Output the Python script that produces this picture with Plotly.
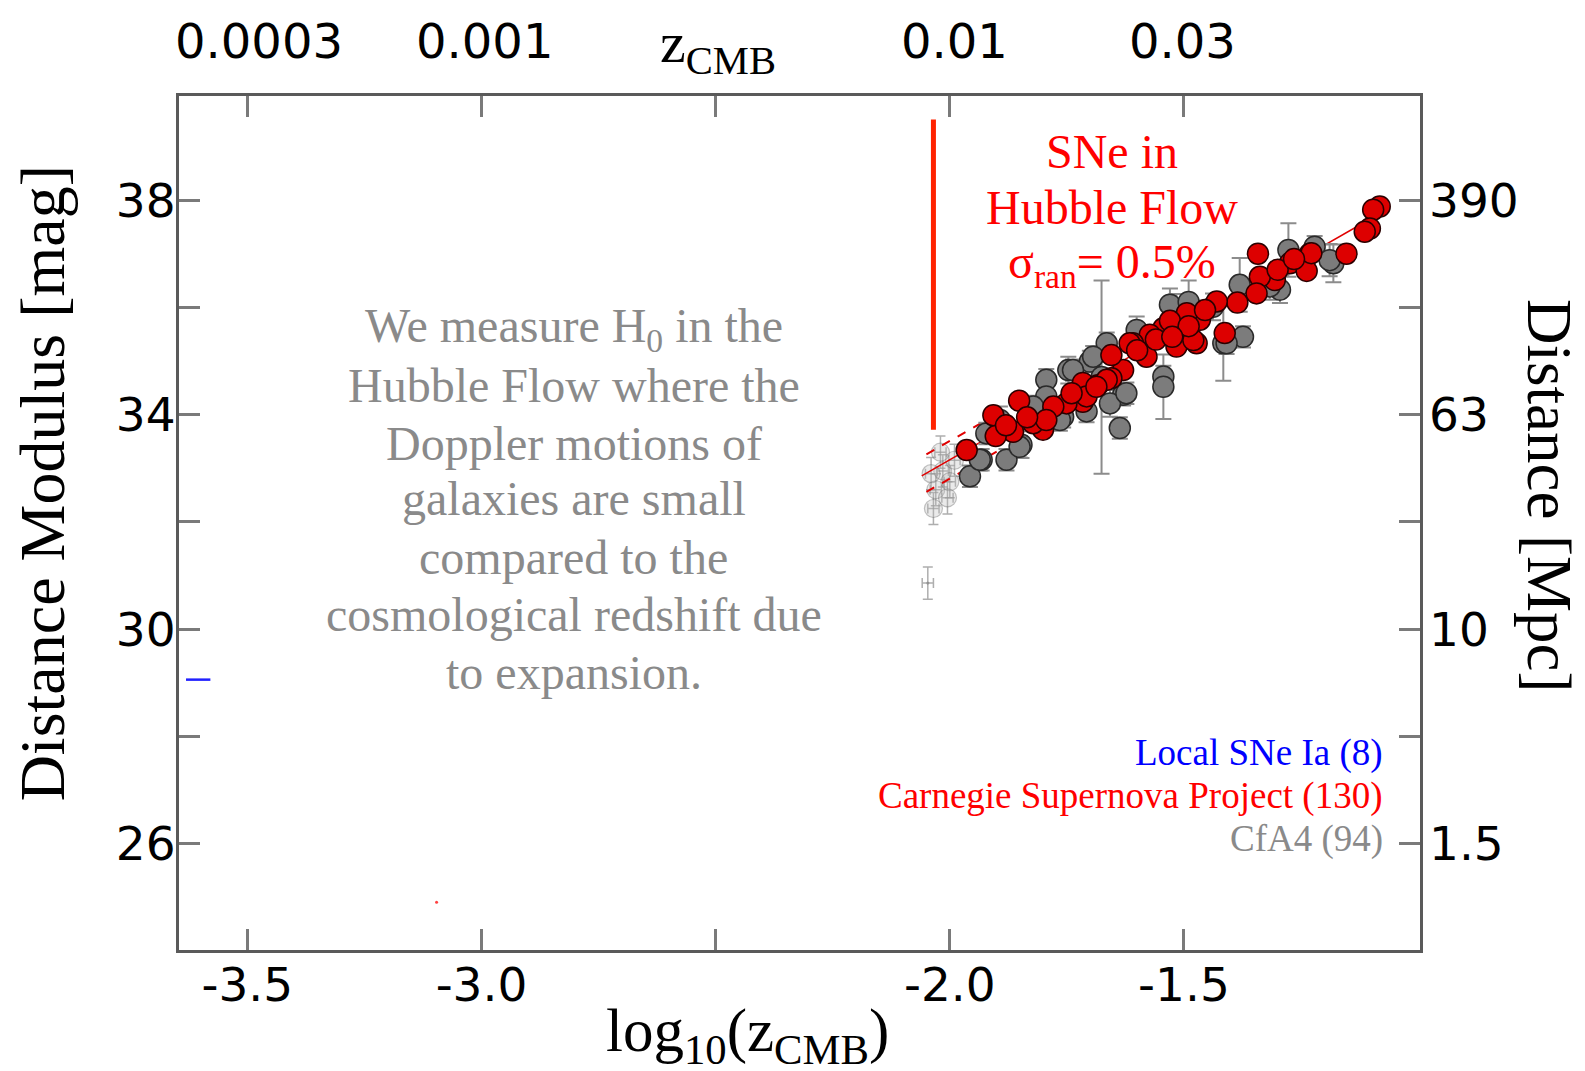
import plotly.graph_objects as go
import numpy as np

# ---------------- data ----------------
# Carnegie Supernova Project (red)
csp_x = [-1.082, -1.096, -1.103, -1.114, -1.153, -1.231, -1.342, -1.274, -1.238, -1.306,
         -1.338, -1.345, -1.386, -1.430, -1.413, -1.466, -1.494, -1.473, -1.509, -1.544,
         -1.516, -1.573, -1.609, -1.580, -1.630, -1.655, -1.655, -1.684, -1.716, -1.716,
         -1.751, -1.779, -1.801, -1.822, -1.852, -1.865, -1.907, -1.902, -1.964, -1.794,
         -1.708, -1.616, -1.502, -1.480, -1.228, -1.665, -1.687, -1.530, -1.490, -1.455,
         -1.560, -1.525, -1.600, -1.740, -1.835, -1.880, -1.300, -1.265]
csp_y = [37.88, 37.82, 37.47, 37.41, 37.00, 37.00, 37.00, 36.82, 36.68, 36.51,
         36.57, 36.26, 36.09, 36.11, 35.52, 35.77, 35.89, 35.33, 35.55, 35.61,
         35.27, 35.49, 35.33, 35.08, 34.83, 35.11, 34.68, 34.55, 34.59, 34.24,
         34.21, 34.15, 33.72, 33.84, 34.26, 33.68, 33.99, 33.60, 33.34, 33.90,
         34.34, 35.33, 35.58, 35.39, 37.01, 34.65, 34.52, 35.75, 35.65, 35.95,
         35.40, 35.45, 35.20, 34.40, 33.95, 33.80, 36.70, 36.90]

# CfA4 (grey)
cfa_x = [-1.181, -1.221, -1.277, -1.295, -1.381, -1.374, -1.416, -1.438, -1.516, -1.523,
         -1.544, -1.544, -1.601, -1.637, -1.630, -1.658, -1.665, -1.701, -1.708, -1.747,
         -1.758, -1.794, -1.794, -1.822, -1.847, -1.879, -1.922, -1.932, -1.957, -1.893,
         -1.623, -1.676, -1.737, -1.694, -1.189, -1.530, -1.490, -1.317, -1.409, -1.765,
         -1.851, -1.936]
cfa_y = [36.82, 37.13, 37.07, 36.33, 36.42, 35.45, 35.33, 36.01, 35.95, 35.89,
         34.71, 34.52, 35.58, 33.75, 34.37, 34.21, 35.33, 34.99, 34.06, 34.83,
         33.96, 34.65, 34.34, 34.15, 33.44, 33.16, 33.65, 33.16, 32.85, 33.90,
         34.40, 34.70, 34.83, 35.08, 36.88, 36.05, 36.10, 36.39, 35.33, 33.90,
         33.40, 33.16]
cfa_err = [0.35, 0.20, 0.50, 0.25, 0.50, 0.20, 0.70, 0.25, 0.30, 0.20,
           0.20, 0.60, 0.25, 0.20, 0.20, 0.25, 0.20, 0.20, 0.20, 0.25,
           0.20, 0.20, 0.20, 0.20, 0.25, 0.20, 0.20, 0.20, 0.20, 0.25,
           0.20, 1.80, 0.20, 0.20, 0.30, 0.30, 0.40, 0.25, 0.20, 0.20,
           0.20, 0.20]

# faint CfA4 points at the low-z edge
cfa_faint_x = [-2.030, -2.015, -2.000, -1.990, -2.035, -2.020, -2.040, -2.005, -2.047]
cfa_faint_y = [32.60, 32.95, 32.75, 33.15, 32.25, 33.30, 32.90, 32.45, 30.86]
cfa_faint_size = [18, 18, 18, 18, 18, 18, 18, 18, 2]

# Local SNe Ia (blue) - only a fragment visible
local_x = [-3.605]
local_y = [29.06]
local_xerr = [0.026]

# stray red point
stray_x = [-3.096]
stray_y = [24.91]

# Hubble-law fit
H0 = 70.0
c_kms = 299792.458
fit_x = [-2.06, -1.08]
fit_dash_x = [-2.05, -1.90]
fit_dash_off = 0.35

# Hubble-flow cut line
cut_x = -2.035
cut_y = [33.72, 39.5]

# ticks
bottom_tickvals = [-3.5, -3.0, -2.5, -2.0, -1.5]
bottom_ticktext = ["-3.5", "-3.0", "", "-2.0", "-1.5"]
left_tickvals = [26, 28, 30, 32, 34, 36, 38]
left_ticktext = ["26", "", "30", "", "34", "", "38"]
right_labels_mu = [38, 34, 30, 26]
right_labels_txt = ["390", "63", "10", "1.5"]
top_label_x = [-3.4755, -2.993, -1.989, -1.5025]
top_label_txt = ["0.0003", "0.001", "0.01", "0.03"]

XR = [-3.646, -0.996]
YR = [24.02, 39.94]


def mu_model(lz, H):
    return 5 * np.log10(c_kms * 10 ** np.asarray(lz) / H) + 25


fig = go.Figure()

# faint points
fig.add_trace(go.Scatter(
    x=cfa_faint_x, y=cfa_faint_y, mode="markers",
    marker=dict(size=cfa_faint_size, color="rgba(190,190,190,0.45)",
                line=dict(color="rgba(110,110,110,0.6)", width=1.2)),
    error_y=dict(type="constant", value=0.3, color="rgba(140,140,140,0.7)", thickness=1.5, width=5),
    error_x=dict(type="constant", value=0.012, color="rgba(140,140,140,0.7)", thickness=1.5, width=5),
    showlegend=False, hoverinfo="skip"))

# fit lines
fx = np.linspace(fit_x[0], fit_x[1], 50)
fig.add_trace(go.Scatter(x=fx, y=mu_model(fx, H0), mode="lines",
                         line=dict(color="#e00000", width=1.5), showlegend=False, hoverinfo="skip"))
dx = np.linspace(fit_dash_x[0], fit_dash_x[1], 10)
for s in (-1, 1):
    fig.add_trace(go.Scatter(x=dx, y=mu_model(dx, H0) + s * fit_dash_off, mode="lines",
                             line=dict(color="#e00000", width=2, dash="dash"),
                             showlegend=False, hoverinfo="skip"))

# CfA4
fig.add_trace(go.Scatter(
    x=cfa_x, y=cfa_y, mode="markers",
    marker=dict(size=21, color="#7c7c7c", line=dict(color="#2a2a2a", width=1.5)),
    error_y=dict(type="data", array=cfa_err, color="#8c8c8c", thickness=2, width=8),
    showlegend=False, hoverinfo="skip"))

# CSP
fig.add_trace(go.Scatter(
    x=csp_x, y=csp_y, mode="markers",
    marker=dict(size=21, color="#dd0000", line=dict(color="#2a0000", width=1.5)),
    showlegend=False, hoverinfo="skip"))

# local
fig.add_trace(go.Scatter(
    x=local_x, y=local_y, mode="markers", marker=dict(size=1, color="rgba(0,0,255,0)"),
    error_x=dict(type="data", array=local_xerr, color="#2020ff", thickness=2.5, width=0),
    showlegend=False, hoverinfo="skip"))
fig.add_trace(go.Scatter(x=stray_x, y=stray_y, mode="markers",
                         marker=dict(size=3, color="#ff4040"), showlegend=False, hoverinfo="skip"))

# cut line
fig.add_trace(go.Scatter(x=[cut_x, cut_x], y=cut_y, mode="lines",
                         line=dict(color="#ff2200", width=5), showlegend=False, hoverinfo="skip"))

SANS = "DejaVu Sans"
SERIF = "Liberation Serif"

annotations = []
# top labels
for xv, t in zip(top_label_x, top_label_txt):
    annotations.append(dict(x=xv, y=1.0644, xref="x", yref="paper", text=t, showarrow=False,
                            font=dict(family=SANS, size=48, color="black"), xanchor="center", yanchor="middle"))
annotations.append(dict(x=0.4343, y=1.0585, xref="paper", yref="paper", text="z<sub>CMB</sub>",
                        showarrow=False, font=dict(family=SERIF, size=58, color="black"),
                        xanchor="center", yanchor="middle"))
# right labels
for mv, t in zip(right_labels_mu, right_labels_txt):
    annotations.append(dict(x=1.0, y=mv, xref="paper", yref="y", text=t, showarrow=False, xshift=7,
                            font=dict(family=SANS, size=47, color="black"), xanchor="left", yanchor="middle"))
# axis titles
annotations.append(dict(x=-0.110, y=0.547, xref="paper", yref="paper", text="Distance Modulus [mag]",
                        textangle=-90, showarrow=False, font=dict(family=SERIF, size=64, color="black"),
                        xanchor="center", yanchor="middle"))
annotations.append(dict(x=1.1040, y=0.5316, xref="paper", yref="paper", text="Distance [Mpc]",
                        textangle=90, showarrow=False, font=dict(family=SERIF, size=63, color="black"),
                        xanchor="center", yanchor="middle"))
annotations.append(dict(x=0.4585, y=-0.0990, xref="paper", yref="paper",
                        text="log<sub>10</sub>(z<sub>CMB</sub>)", showarrow=False,
                        font=dict(family=SERIF, size=61, color="black"), xanchor="center", yanchor="middle"))

# grey explanatory text
grey_lines = ["We measure H<sub>0</sub> in the", "Hubble Flow where the", "Doppler motions of",
              "galaxies are small", "compared to the", "cosmological redshift due", "to expansion."]
grey_y = [35.59, 34.55, 33.47, 32.43, 31.33, 30.28, 29.19]
for t, yv in zip(grey_lines, grey_y):
    annotations.append(dict(x=-2.803, y=yv, xref="x", yref="y", text=t, showarrow=False,
                            font=dict(family=SERIF, size=48, color="#8a8a8a"),
                            xanchor="center", yanchor="middle"))
# red text
red_lines = ["SNe in", "Hubble Flow", "σ<sub>ran</sub>= 0.5%"]
red_y = [38.90, 37.87, 36.79]
for t, yv in zip(red_lines, red_y):
    annotations.append(dict(x=-1.654, y=yv, xref="x", yref="y", text=t, showarrow=False,
                            font=dict(family=SERIF, size=48, color="#ff0000"),
                            xanchor="center", yanchor="middle"))
# legend texts
leg_txt = ["Local SNe Ia (8)", "Carnegie Supernova Project (130)", "CfA4 (94)"]
leg_col = ["#0000ff", "#ff0000", "#8a8a8a"]
leg_y = [27.70, 26.89, 26.08]
for t, cl, yv in zip(leg_txt, leg_col, leg_y):
    annotations.append(dict(x=-1.070, y=yv, xref="x", yref="y", text=t, showarrow=False,
                            font=dict(family=SERIF, size=37, color=cl),
                            xanchor="right", yanchor="middle"))

axis_common = dict(showgrid=False, zeroline=False, showline=True, linecolor="#5a5a5a", linewidth=3,
                   mirror="ticks", ticks="inside", ticklen=21, tickwidth=2.5, tickcolor="#7a7a7a",
                   tickfont=dict(family=SANS, size=47, color="black"))

# page body has an 8px default margin: shrink the figure so its plot area lands where the reference's does
fig.update_layout(
    width=1577, height=1063,
    margin=dict(l=171, r=165, t=88, b=121),
    plot_bgcolor="white", paper_bgcolor="white",
    xaxis=dict(range=XR, tickmode="array", tickvals=bottom_tickvals, ticktext=bottom_ticktext,
               ticklabelstandoff=-8, **axis_common),
    yaxis=dict(range=YR, tickmode="array", tickvals=left_tickvals, ticktext=left_ticktext,
               ticklabelstandoff=-9, **axis_common),
    annotations=annotations,
    showlegend=False,
)

fig.write_html("out.html")
